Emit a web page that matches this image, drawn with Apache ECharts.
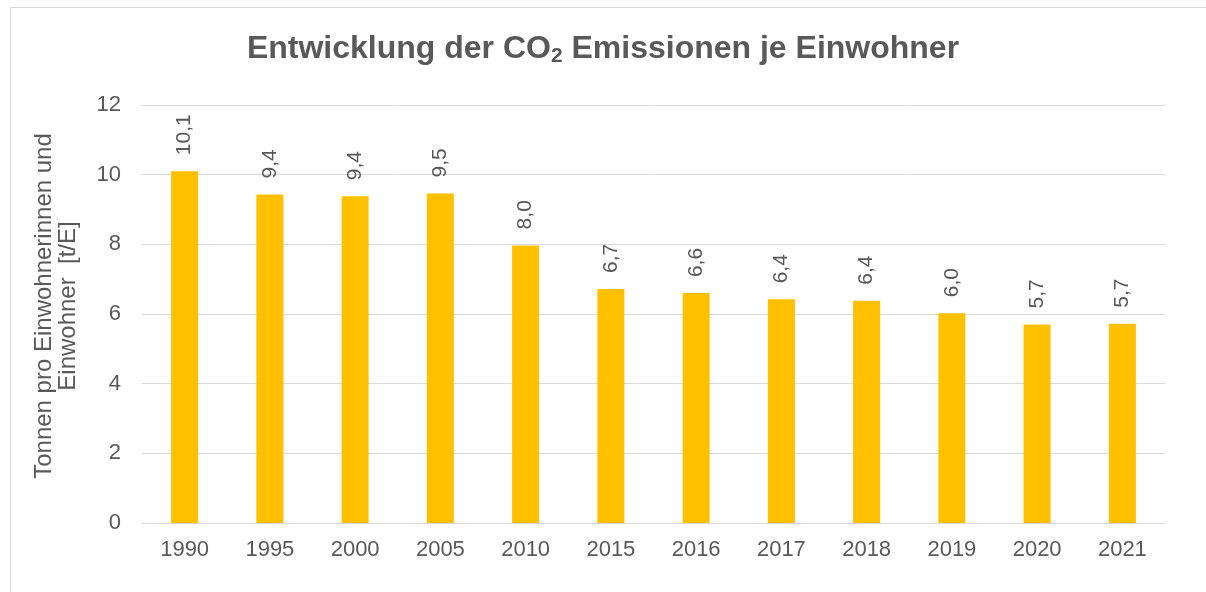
<!DOCTYPE html>
<html>
<head>
<meta charset="utf-8">
<script src="https://cdn.jsdelivr.net/npm/echarts@6/dist/echarts.min.js"></script>
<style>
  html, body { margin: 0; padding: 0; background: #fff; }
  #frame { position: absolute; left: 10px; top: 7px; width: 1200px; height: 590px; border: 1px solid #d9d9d9; box-sizing: border-box; }
  #chart { position: absolute; left: 0; top: 0; width: 1206px; height: 592px; }
</style>
</head>
<body>
<div id="frame"></div>
<div id="chart"></div>
<script>
var years = ["1990", "1995", "2000", "2005", "2010", "2015", "2016", "2017", "2018", "2019", "2020", "2021"];
var emissions = [10.1, 9.43, 9.38, 9.46, 7.97, 6.72, 6.6, 6.42, 6.38, 6.02, 5.7, 5.72];

var grey = "#595959";
var myChart = echarts.init(document.getElementById("chart"));
myChart.setOption({
  animation: false,
  title: {
    text: "Entwicklung der CO{sub|2} Emissionen je Einwohner",
    left: "center",
    top: 27,
    textStyle: {
      fontFamily: "Liberation Sans",
      fontSize: 32,
      fontWeight: "bold",
      color: grey,
      rich: {
        sub: {
          fontFamily: "Liberation Sans",
          fontSize: 21,
          fontWeight: "bold",
          color: grey,
          verticalAlign: "bottom",
          padding: [14, 0, 0, 0]
        }
      }
    }
  },
  grid: {
    left: 142,
    right: 41,
    top: 105,
    bottom: 69
  },
  xAxis: {
    type: "category",
    data: years,
    axisLine: { lineStyle: { color: "#d9d9d9", width: 1 } },
    axisTick: { show: false },
    axisLabel: {
      color: grey,
      fontFamily: "Liberation Sans",
      fontSize: 22,
      margin: 16
    }
  },
  yAxis: {
    type: "value",
    min: 0,
    max: 12,
    interval: 2,
    name: "Tonnen pro Einwohnerinnen und\nEinwohner  [t/E]",
    nameLocation: "middle",
    nameGap: 62,
    nameTextStyle: {
      color: grey,
      fontFamily: "Liberation Sans",
      fontSize: 24,
      lineHeight: 24,
      padding: [0, 0, 0, 16]
    },
    axisLine: { show: false },
    axisTick: { show: false },
    splitLine: { lineStyle: { color: "#d9d9d9", width: 1 } },
    axisLabel: {
      color: grey,
      fontFamily: "Liberation Sans",
      fontSize: 22,
      margin: 21
    }
  },
  series: [
    {
      type: "bar",
      data: emissions,
      barWidth: 27,
      itemStyle: { color: "#ffc000" },
      label: {
        show: true,
        position: "top",
        rotate: 90,
        align: "left",
        verticalAlign: "middle",
        distance: 16,
        color: grey,
        fontFamily: "Liberation Sans",
        fontSize: 21,
        formatter: function (p) {
          return p.value.toFixed(1).replace(".", ",");
        }
      }
    }
  ]
});
</script>
</body>
</html>
